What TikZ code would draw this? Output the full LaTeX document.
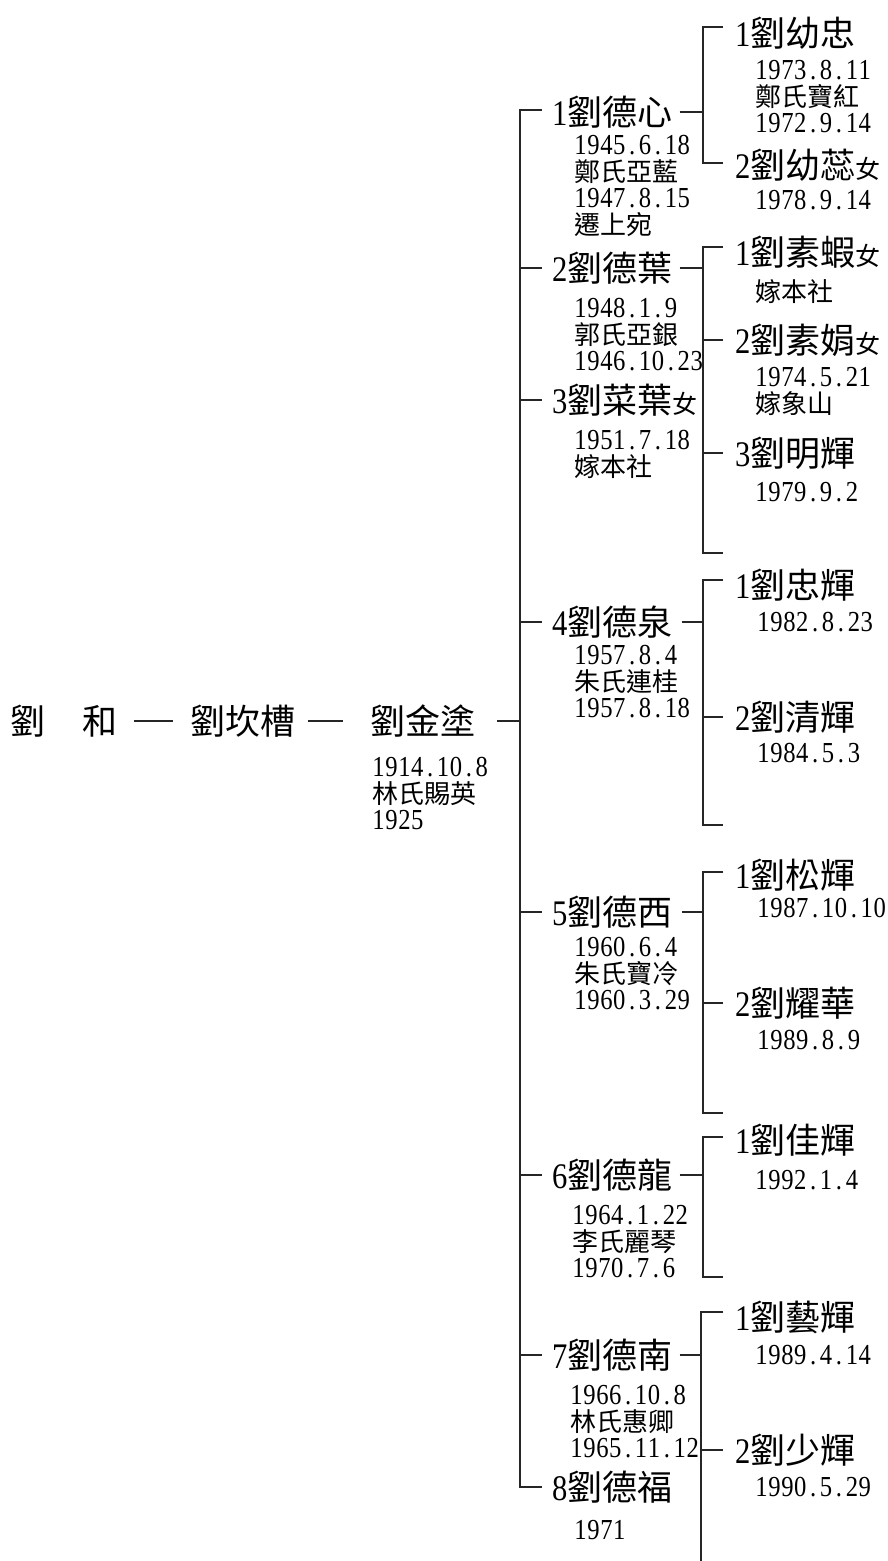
\documentclass[tikz,border=0pt]{standalone}
\usepackage{fontspec}
\newfontfamily\cjk{Noto Sans CJK TC}
\newfontfamily\numf{Liberation Serif}[FakeStretch=0.85]
\newcommand\nm[2]{{\numf\fontsize{36}{36}\selectfont #1}{\cjk\fontsize{35}{36}\selectfont #2}}
\newcommand\fem{{\cjk\fontsize{25}{26}\selectfont 女}}
\newcommand\dt[1]{{\numf\fontsize{29}{26.5}\selectfont\dtloop#1\relax}}
\def\dtloop#1{\ifx#1\relax\else\makebox[12.9pt]{#1}\expandafter\dtloop\fi}
\newcommand\cj[1]{{\cjk\fontsize{26}{26.5}\selectfont #1}}
\tikzset{
  ln/.style={line width=1.6pt, black!85, line cap=butt},
  nmnode/.style={anchor=west, inner sep=0pt, text=black},
  det/.style={anchor=base west, inner sep=0pt, align=left, text=black, font=\fontsize{26}{26.5}\selectfont},
}
\begin{document}
\begin{tikzpicture}[x=1pt,y=-1pt]
\fill[white] (0,0) rectangle (888,1561);
\useasboundingbox (0,0) rectangle (888,1561);

% ---- first generations row (anchor base of multi-line details = last line)
\node[nmnode] (n0) at (10,721) {{\cjk\fontsize{35}{36}\selectfont 劉\hspace{37pt}和}};
\node[nmnode] (n1) at (190,721) {{\cjk\fontsize{35}{36}\selectfont 劉坎槽}};
\node[nmnode] (n2) at (370,721) {{\cjk\fontsize{35}{36}\selectfont 劉金塗}};
\node[det] (n2d) at (372,829.5) {\dt{1914.10.8}\\\cj{林氏賜英}\\\dt{1925}};

% ---- main vertical line
\coordinate (mtop) at (520,110);
\coordinate (mbot) at (520,1487);
\draw[ln] ([xshift=17pt]n0.east) -- ([xshift=-17pt]n1.west);
\draw[ln] ([xshift=13pt]n1.east) -- ([xshift=-27pt]n2.west);
\draw[ln] ([xshift=22pt]n2.east) -- (n2.east -| mtop);

% ---- generation 4
\node[nmnode] (d1) at (552,112)  {\nm{1}{劉德心}};
\node[nmnode] (d2) at (552,268)  {\nm{2}{劉德葉}};
\node[nmnode] (d3) at (552,400)  {\nm{3}{劉菜葉}\fem};
\node[nmnode] (d4) at (552,622)  {\nm{4}{劉德泉}};
\node[nmnode] (d5) at (552,912)  {\nm{5}{劉德西}};
\node[nmnode] (d6) at (552,1175) {\nm{6}{劉德龍}};
\node[nmnode] (d7) at (552,1355) {\nm{7}{劉德南}};
\node[nmnode] (d8) at (552,1487) {\nm{8}{劉德福}};

\node[det] (d1d) at (574,234)    {\dt{1945.6.18}\\\cj{鄭氏亞藍}\\\dt{1947.8.15}\\\cj{遷上宛}};
\node[det] (d2d) at (574,370.5)  {\dt{1948.1.9}\\\cj{郭氏亞銀}\\\dt{1946.10.23}};
\node[det] (d3d) at (574,476)    {\dt{1951.7.18}\\\cj{嫁本社}};
\node[det] (d4d) at (574,717.5)  {\dt{1957.8.4}\\\cj{朱氏連桂}\\\dt{1957.8.18}};
\node[det] (d5d) at (574,1009.5) {\dt{1960.6.4}\\\cj{朱氏寶冷}\\\dt{1960.3.29}};
\node[det] (d6d) at (572,1277.5) {\dt{1964.1.22}\\\cj{李氏麗琴}\\\dt{1970.7.6}};
\node[det] (d7d) at (570,1457.5) {\dt{1966.10.8}\\\cj{林氏惠卿}\\\dt{1965.11.12}};
\node[det] (d8d) at (574,1539.5) {\dt{1971}};

\draw[ln] ([xshift=-10pt]d1.west |- mtop) -- (mtop) -- (mbot) -- ([xshift=-10pt]d8.west |- mbot);
\foreach \n in {d2,d3,d4,d5,d6,d7}{
  \draw[ln] (\n.west -| mtop) -- ([xshift=-10pt]\n.west);
}

% ---- brackets of generation 5
\coordinate (b1t) at (703,27);   \coordinate (b1b) at (703,163);
\coordinate (b2t) at (703,247);  \coordinate (b2b) at (703,553);
\coordinate (b4t) at (703,580);  \coordinate (b4b) at (703,825);
\coordinate (b5t) at (703,872);  \coordinate (b5b) at (703,1113);
\coordinate (b6t) at (703,1137); \coordinate (b6b) at (703,1277);
\coordinate (b7t) at (701,1312); \coordinate (b7b) at (701,1561);

\draw[ln] ([xshift=20pt]b1t) -- (b1t) -- (b1b) -- ([xshift=20pt]b1b);
\draw[ln] ([xshift=20pt]b2t) -- (b2t) -- (b2b) -- ([xshift=20pt]b2b);
\draw[ln] ([xshift=20pt]b4t) -- (b4t) -- (b4b) -- ([xshift=20pt]b4b);
\draw[ln] ([xshift=20pt]b5t) -- (b5t) -- (b5b) -- ([xshift=20pt]b5b);
\draw[ln] ([xshift=20pt]b6t) -- (b6t) -- (b6b) -- ([xshift=20pt]b6b);
\draw[ln] ([xshift=22pt]b7t) -- (b7t) -- (b7b);

\draw[ln] ([xshift=7pt]d1.east) -- (d1.east -| b1t);
\draw[ln] ([xshift=7pt]d2.east) -- (d2.east -| b2t);
\draw[ln] ([xshift=9pt]d4.east) -- (d4.east -| b4t);
\draw[ln] ([xshift=9pt]d5.east) -- (d5.east -| b5t);
\draw[ln] ([xshift=7pt]d6.east) -- (d6.east -| b6t);
\draw[ln] ([xshift=7pt]d7.east) -- (d7.east -| b7t);

% ---- generation 5
\node[nmnode] (e11) at (735,33)   {\nm{1}{劉幼忠}};
\node[nmnode] (e12) at (735,165)  {\nm{2}{劉幼蕊}\fem};
\node[nmnode] (e21) at (735,252)  {\nm{1}{劉素蝦}\fem};
\node[nmnode] (e22) at (735,340)  {\nm{2}{劉素娟}\fem};
\node[nmnode] (e23) at (735,453)  {\nm{3}{劉明輝}};
\node[nmnode] (e41) at (735,585)  {\nm{1}{劉忠輝}};
\node[nmnode] (e42) at (735,717)  {\nm{2}{劉清輝}};
\node[nmnode] (e51) at (735,875)  {\nm{1}{劉松輝}};
\node[nmnode] (e52) at (735,1003) {\nm{2}{劉耀華}};
\node[nmnode] (e61) at (735,1140) {\nm{1}{劉佳輝}};
\node[nmnode] (e71) at (735,1317) {\nm{1}{劉藝輝}};
\node[nmnode] (e72) at (735,1450) {\nm{2}{劉少輝}};

\foreach \n/\b in {e22/b2t,e23/b2t,e42/b4t,e52/b5t,e72/b7t}{
  \draw[ln] (\n.west -| \b) -- ([xshift=-12pt]\n.west);
}

\node[det] (e11d) at (755,132.5)  {\dt{1973.8.11}\\\cj{鄭氏寶紅}\\\dt{1972.9.14}};
\node[det] (e12d) at (755,209.5)  {\dt{1978.9.14}};
\node[det] (e21d) at (755,301.5)  {\cj{嫁本社}};
\node[det] (e22d) at (755,413)    {\dt{1974.5.21}\\\cj{嫁象山}};
\node[det] (e23d) at (755,501.5)  {\dt{1979.9.2}};
\node[det] (e41d) at (757,631.5)  {\dt{1982.8.23}};
\node[det] (e42d) at (757,762.5)  {\dt{1984.5.3}};
\node[det] (e51d) at (757,917.5)  {\dt{1987.10.10}};
\node[det] (e52d) at (757,1049.5) {\dt{1989.8.9}};
\node[det] (e61d) at (755,1189.5) {\dt{1992.1.4}};
\node[det] (e71d) at (755,1364.5) {\dt{1989.4.14}};
\node[det] (e72d) at (755,1496.5) {\dt{1990.5.29}};
\end{tikzpicture}
\end{document}
